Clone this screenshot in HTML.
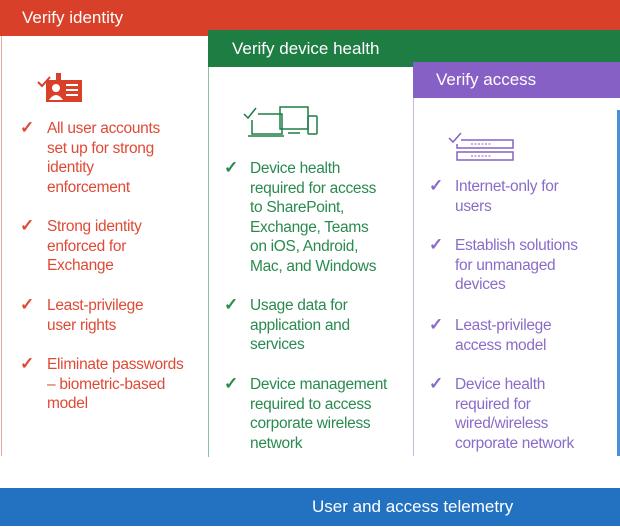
<!DOCTYPE html>
<html><head><style>
body{margin:0;width:620px;height:529px;background:#fff;position:relative;overflow:hidden;font-family:"Liberation Sans",sans-serif;}
.a{position:absolute;}
.h{color:#fff;font-size:17px;}
.t{position:absolute;font-size:15.5px;line-height:19.6px;letter-spacing:-0.3px;}
.c{position:absolute;font-size:17px;font-weight:bold;}
</style></head><body>
<div class="a" style="left:0;top:0;width:620px;height:36px;background:#d8402a"></div>
<div class="a h" style="left:22px;top:8px">Verify identity</div>
<div class="a" style="left:1px;top:36px;width:1px;height:420px;background:#e9a89e"></div>
<div class="a" style="left:208px;top:30px;width:412px;height:37px;background:#1d7d43"></div>
<div class="a h" style="left:232px;top:39px">Verify device health</div>
<div class="a" style="left:208px;top:67px;width:1px;height:390px;background:#8cc1a0"></div>
<div class="a" style="left:413px;top:62px;width:207px;height:36px;background:#8660c4"></div>
<div class="a h" style="left:436px;top:70px">Verify access</div>
<div class="a" style="left:413px;top:98px;width:1px;height:358px;background:#c8b8e6"></div>
<div class="a" style="left:617px;top:110px;width:3px;height:346px;background:#4a8fd6"></div>
<div class="a" style="left:0;top:488px;width:620px;height:38px;background:#2272c1"></div>
<div class="a h" style="left:312px;top:497px">User and access telemetry</div>

<svg class="a" style="left:36px;top:70px" width="50" height="34"><path d="M2 12l4 4 8-9" stroke="#d8402a" stroke-width="2" fill="none"/><rect x="10" y="10" width="36" height="22" fill="#d8402a"/><rect x="20" y="3" width="5" height="8" fill="#d8402a"/><circle cx="20" cy="18" r="4" fill="#fff"/><path d="M13 30q7-10 14 0z" fill="#fff"/><rect x="30" y="14" width="12" height="2" fill="#fff"/><rect x="30" y="19" width="12" height="2" fill="#fff"/><rect x="30" y="24" width="12" height="2" fill="#fff"/></svg>
<svg class="a" style="left:242px;top:104px" width="80" height="36" fill="none" stroke="#1d7d43" stroke-width="1.5"><path d="M2 10l4 4 8-10"/><path d="M16 10h24v20H10V16"/><path d="M6 32h36"/><rect x="38" y="3" width="28" height="22"/><path d="M46 29h12"/><rect x="66" y="12" width="9" height="18" rx="1"/></svg>
<svg class="a" style="left:447px;top:130px" width="70" height="36" fill="none" stroke="#8660c4" stroke-width="1.5"><path d="M2 8l4 4 8-9"/><path d="M14 10h52v8H10V14"/><rect x="10" y="22" width="56" height="8"/><path d="M24 14h20M24 26h20" stroke-dasharray="2 1.5" stroke-width="1"/></svg>

<div style="color:#df4a36">
<div class="c" style="left:20px;top:118px">✓</div><div class="t" style="left:47px;top:119px">All user accounts<br>set up for strong<br>identity<br>enforcement</div>
<div class="c" style="left:20px;top:216px">✓</div><div class="t" style="left:47px;top:217px">Strong identity<br>enforced for<br>Exchange</div>
<div class="c" style="left:20px;top:295px">✓</div><div class="t" style="left:47px;top:296px">Least-privilege<br>user rights</div>
<div class="c" style="left:20px;top:354px">✓</div><div class="t" style="left:47px;top:355px">Eliminate passwords<br>– biometric-based<br>model</div>
</div>
<div style="color:#2a8a4f">
<div class="c" style="left:224px;top:158px">✓</div><div class="t" style="left:250px;top:159px">Device health<br>required for access<br>to SharePoint,<br>Exchange, Teams<br>on iOS, Android,<br>Mac, and Windows</div>
<div class="c" style="left:224px;top:295px">✓</div><div class="t" style="left:250px;top:296px">Usage data for<br>application and<br>services</div>
<div class="c" style="left:224px;top:374px">✓</div><div class="t" style="left:250px;top:375px">Device management<br>required to access<br>corporate wireless<br>network</div>
</div>
<div style="color:#8a6cc8">
<div class="c" style="left:429px;top:176px">✓</div><div class="t" style="left:455px;top:177px">Internet-only for<br>users</div>
<div class="c" style="left:429px;top:235px">✓</div><div class="t" style="left:455px;top:236px">Establish solutions<br>for unmanaged<br>devices</div>
<div class="c" style="left:429px;top:315px">✓</div><div class="t" style="left:455px;top:316px">Least-privilege<br>access model</div>
<div class="c" style="left:429px;top:374px">✓</div><div class="t" style="left:455px;top:375px">Device health<br>required for<br>wired/wireless<br>corporate network</div>
</div>
</body></html>
